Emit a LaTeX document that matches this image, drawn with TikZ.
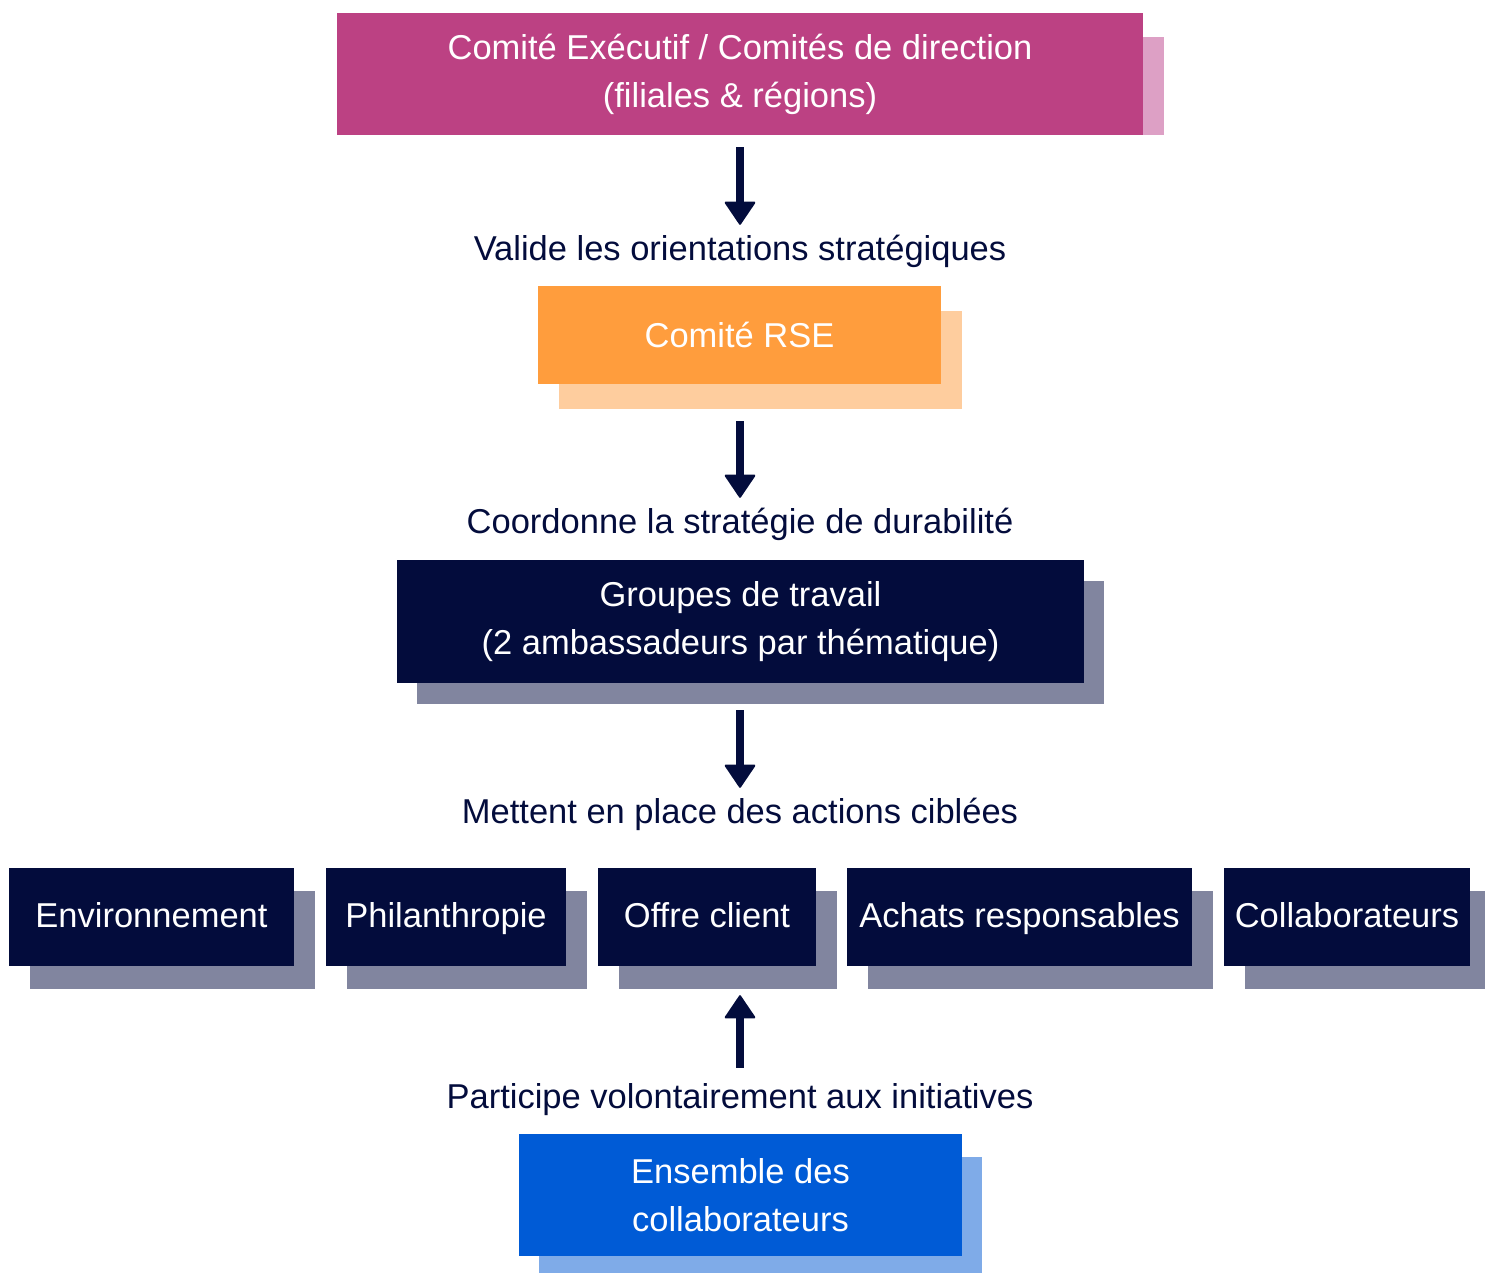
\documentclass[tikz,border=0pt]{standalone}
\usepackage{fontspec}
\setmainfont{Liberation Sans}
\usetikzlibrary{arrows.meta,backgrounds}
\definecolor{navy}{HTML}{030C3C}
\definecolor{navyshadow}{HTML}{81859F}
\definecolor{pinkmain}{HTML}{BC4183}
\definecolor{pinkshadow}{HTML}{DDA0C5}
\definecolor{orangemain}{HTML}{FF9D3D}
\definecolor{orangeshadow}{HTML}{FECD9E}
\definecolor{bluemain}{HTML}{005BD6}
\definecolor{blueshadow}{HTML}{7FABE8}
\tikzset{
  box/.style={inner sep=0pt, text=white, align=center, font=\fontsize{34.5}{48}\selectfont},
  lab/.style={inner sep=0pt, text=navy, anchor=base, text height=24pt, font=\fontsize{34.5}{40}\selectfont},
  arr/.style={draw=navy, line width=8pt, -{Triangle[width=32pt,length=24pt,round,line width=2pt]}},
  rowbox/.style={box, fill=navy, minimum height=98pt, text height=24pt, text depth=4pt},
}
\begin{document}
\begin{tikzpicture}[x=1pt,y=-1pt]
\useasboundingbox (0,0) rectangle (1485,1274);
% main boxes
\node[box, fill=pinkmain, minimum width=806pt, minimum height=122pt] (exec) at (740,74) {Comité Exécutif / Comités de direction\\(filiales \& régions)};
\node[box, fill=orangemain, minimum width=403pt, minimum height=98pt] (rse) at (739.5,335) {Comité RSE};
\node[box, fill=navy, minimum width=687pt, minimum height=123pt] (groupes) at (740.5,621.5) {Groupes de travail\\(2 ambassadeurs par thématique)};
\node[rowbox, minimum width=285pt] (env) at (151.5,917) {Environnement};
\node[rowbox, minimum width=240pt] (phil) at (446,917) {Philanthropie};
\node[rowbox, minimum width=218pt] (offre) at (707,917) {Offre client};
\node[rowbox, minimum width=345pt] (achats) at (1019.5,917) {Achats responsables};
\node[rowbox, minimum width=246pt] (collab) at (1347,917) {Collaborateurs};
\node[box, fill=bluemain, minimum width=443pt, minimum height=122pt] (ensemble) at (740.5,1195) {Ensemble des\\collaborateurs};
% labels
\node[lab] (lab1) at (740,260) {Valide les orientations stratégiques};
\node[lab] (lab2) at (740,533) {Coordonne la stratégie de durabilité};
\node[lab] (lab3) at (740,823) {Mettent en place des actions ciblées};
\node[lab] (lab4) at (740,1108) {Participe volontairement aux initiatives};
% shadows
\begin{scope}[on background layer]
\fill[pinkshadow] ([shift={(21,24)}]exec.north west) rectangle ([xshift=21pt]exec.south east);
\fill[orangeshadow] ([shift={(21,25)}]rse.north west) rectangle ([shift={(21,25)}]rse.south east);
\fill[navyshadow] ([shift={(20,21)}]groupes.north west) rectangle ([shift={(20,21)}]groupes.south east);
\foreach \n in {env,phil,offre,achats,collab}
  \fill[navyshadow] ([shift={(21,23)}]\n.north west) rectangle ([shift={(21,23)}]\n.south east);
\fill[blueshadow] ([shift={(20,23)}]ensemble.north west) rectangle ([shift={(20,17)}]ensemble.south east);
\end{scope}
% arrows
\draw[arr, shorten <=12pt, shorten >=11pt] (lab1.north |- exec.south) -- (lab1.north);
\draw[arr, shorten <=37pt, shorten >=11pt] (lab2.north |- rse.south) -- (lab2.north);
\draw[arr, shorten <=27pt, shorten >=11pt] (lab3.north |- groupes.south) -- (lab3.north);
\draw[arr, shorten <=16pt, shorten >=29pt] (lab4.north) -- (lab4.north |- offre.south);
\end{tikzpicture}
\end{document}
